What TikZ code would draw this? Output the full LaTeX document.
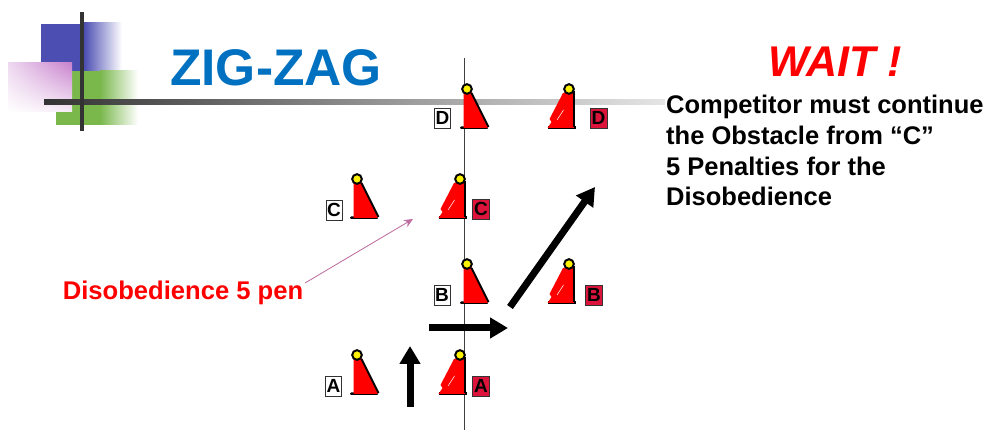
\documentclass[tikz,border=0pt]{standalone}
\usepackage{fontspec}
\setmainfont{Liberation Sans}
\usetikzlibrary{arrows.meta,positioning,shadings}
\definecolor{conered}{HTML}{FF0000}
\definecolor{tagred}{HTML}{DC143C}
\definecolor{barblack}{HTML}{333333}
\definecolor{titleblue}{HTML}{0070C0}
\definecolor{squareblue}{RGB}{76,78,178}
\definecolor{squaregreen}{RGB}{122,184,76}
\definecolor{squarepink}{RGB}{200,130,205}
\definecolor{pinkarrow}{RGB}{190,110,160}
\tikzset{
	whitetag/.style={draw=black!80,fill=white,inner sep=0pt,minimum width=16pt,minimum height=20pt,font=\bfseries\fontsize{19}{19}\selectfont},
	redtag/.style={whitetag,fill=tagred,minimum width=17pt},
	bigarrow/.style={line width=7pt,black,-{Triangle[width=20pt,length=18pt]}},
	body/.style={align=left,anchor=north west,inner sep=0pt,font=\bfseries\fontsize{25.5}{30.7}\selectfont},
	% cone with its upright edge on the left
	leftcone/.pic={
		\fill[black,rounded corners=1pt] (-7,37.5) rectangle (21,40);
		\fill[conered] (-3.5,2) -- (-3.5,39) -- (21,39) -- (4,2) -- cycle;
		\draw[black,line width=2pt] (4.5,4) -- (21.5,38);
		\draw[black,line width=2pt,fill=yellow] (0,0) circle (4.8);
	},
	% cone with its upright edge on the right
	rightcone/.pic={
		\fill[black] (-21,37.5) rectangle (7,40);
		\fill[conered] (-6,4) -- (-19.5,30) -- (-17.5,33) -- (-21.5,39) -- (5,39) -- (4,2) -- cycle;
		\draw[black,line width=2pt] (5,2) -- (5,38);
		\draw[white,line width=.5pt] (-12,31) -- (-5.5,21);
		\draw[black,line width=2pt,fill=yellow] (0,0) circle (4.8);
	}
}
\begin{document}
\begin{tikzpicture}[x=1pt,y=-1pt]
	\useasboundingbox (0,0) rectangle (986,430);
	
	% corner squares
	\fill[squareblue] (41,24) rectangle (84,71);
	\shade[left color=squareblue,right color=white] (84,23) rectangle (122,71);
	\fill[squaregreen] (56,71) rectangle (100,125);
	\shade[left color=squaregreen,right color=white] (100,71) rectangle (138,125);
	\shade[lower left=white,upper right=squarepink,lower right=squarepink!15,upper left=squarepink!30] (8,63) rectangle (72,112);
	\shade[left color=barblack,right color=black!10] (44,100) rectangle (665,105);
	\fill[barblack] (80,12) rectangle (84,131);
	
	\node[text=titleblue,font=\bfseries\fontsize{51.5}{51.5}\selectfont] (title) at (276,68) {ZIG-ZAG};
	\node[text=red,font=\bfseries\itshape\fontsize{43}{43}\selectfont] (wait) at (835,62) {WAIT !};
	\node[body] (note) at (666,95) {Competitor must continue\\the Obstacle from “C”\\5 Penalties for the\\Disobedience};
	
	\coordinate (lineTop) at (464,58);
	\coordinate (lineBot) at (464,430);
	\draw[black!75,line width=1pt] (lineTop) -- (lineBot);
	
	% cones
	\pic at (467,89) {leftcone};
	\pic at (569,89) {rightcone};
	\pic at (357,179) {leftcone};
	\pic at (460,179) {rightcone};
	\pic at (467,264) {leftcone};
	\pic at (569,264) {rightcone};
	\pic at (357,355) {leftcone};
	\pic at (460,355) {rightcone};
	
	\node[whitetag] (d1) at (442.5,118) {D};
	\node[redtag] (d2) at (598.5,118) {D};
	\node[whitetag] (c1) at (334,210) {C};
	\node[redtag] (c2) at (481,209) {C};
	\node[whitetag] (b1) at (442,295) {B};
	\node[redtag] (b2) at (594,295) {B};
	\node[whitetag] (a1) at (333.5,386) {A};
	\node[redtag] (a2) at (481,386) {A};
	
	% route
	\coordinate (up1) at (410,407);
	\coordinate (up2) at (410,346);
	\coordinate (run1) at (429,328);
	\coordinate (run2) at (508,328);
	\coordinate (diag1) at (510,307);
	\coordinate (diag2) at (595,187);
	\draw[bigarrow] (up1) -- (up2);
	\draw[bigarrow] (run1) -- (run2);
	\draw[bigarrow] (diag1) -- (diag2);
	
	\node[text=red,font=\bfseries\fontsize{25.6}{25.6}\selectfont,inner sep=0pt] (pen) at (183,293) {Disobedience 5 pen};
	\coordinate (penEnd) at (305,283);
	\coordinate (miss) at (413,219);
	\draw[-{Stealth[length=9pt,width=8pt]},draw=pinkarrow,fill=pinkarrow,line width=.8pt] (penEnd) -- (miss);
\end{tikzpicture}
\end{document}
